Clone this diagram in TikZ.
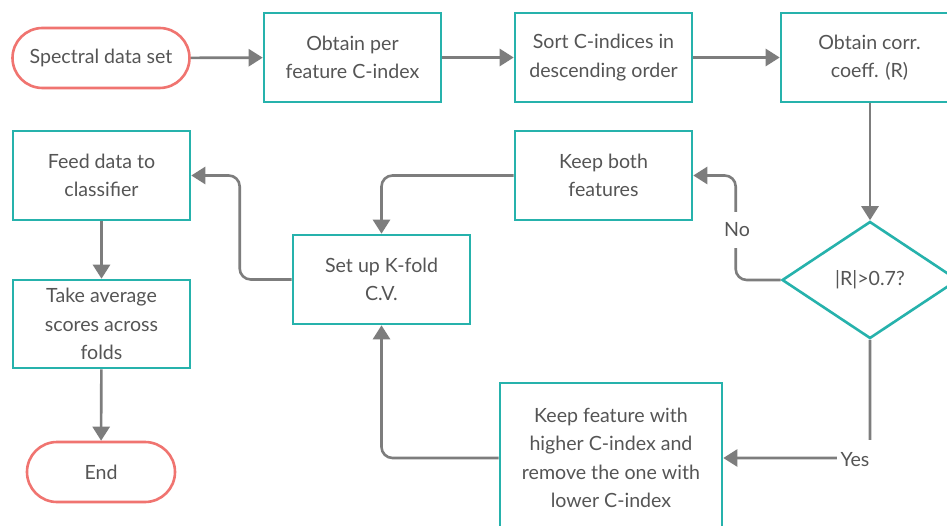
\documentclass[tikz,border=0pt]{standalone}
\usepackage{fontspec}
\setmainfont{Lato}
\usetikzlibrary{shapes.geometric,arrows.meta}
\definecolor{teal}{RGB}{38,178,172}
\definecolor{salmon}{RGB}{240,116,112}
\definecolor{lgray}{RGB}{125,125,125}
\definecolor{tgray}{RGB}{85,85,85}
\tikzset{
  base/.style={text=tgray,font=\fontsize{19.6}{28.5}\selectfont,align=center,line width=2.6pt,inner sep=0pt},
  proc/.style={base,draw=teal,rectangle,minimum width=177pt,minimum height=89pt},
  dec/.style={base,draw=teal,diamond,minimum width=176pt,minimum height=117pt},
  arr/.style={draw=lgray,line width=2.6pt,-{Triangle[length=14pt,width=17pt]},rounded corners=11pt},
  lab/.style={text=tgray,font=\fontsize{19.6}{22}\selectfont,fill=white,inner sep=2pt,minimum height=36pt}
}
\begin{document}
\begin{tikzpicture}[x=1pt,y=-1pt]
\useasboundingbox (0,0) rectangle (947,526);
\clip (0,0) rectangle (947,526);
\fill[white] (0,0) rectangle (947,526);
\node[base,draw=salmon,rectangle,rounded corners=30pt,minimum width=177pt,minimum height=60pt] (start) at (101,58) {Spectral data set};
\node[proc] (b1) at (352.5,57.5) {Obtain per\\feature C-index};
\node[proc] (b2) at (603.5,57.5) {Sort C-indices in\\descending order};
\node[proc] (b3) at (869.5,57.5) {Obtain corr.\\coeff. (R)};
\node[dec] (dia) at (870,280) {|R|>0.7?};
\node[proc] (kb) at (603.5,175.5) {Keep both\\features};
\node[proc] (su) at (381.5,279.5) {Set up K-fold\\C.V.};
\node[proc] (fd) at (101.5,175.5) {Feed data to\\classifier};
\node[proc,minimum height=88pt] (ta) at (101.5,324) {Take average\\scores across\\folds};
\node[base,draw=salmon,rectangle,rounded corners=30pt,minimum width=148pt,minimum height=60pt] (end) at (101,472) {End};
\node[proc,minimum width=222pt,minimum height=150pt] (kf) at (611,458) {Keep feature with\\higher C-index and\\remove the one with\\lower C-index};

\draw[arr] (start) -- (b1);
\draw[arr] (b1) -- (b2);
\draw[arr] (b2.east) -- (b2.east -| b3.west);
\draw[arr] (b3.south -| dia.north) -- (dia.north);
\draw[arr] (dia.west) -- ([xshift=-45pt]dia.west) |- (kb.east);
\node[lab] (no) at (737,230) {No};
\draw[arr] (dia.south) |- (kf.east);
\node[lab,minimum height=40pt,minimum width=36pt] (yes) at (855,460) {Yes};
\draw[arr] (kb.west) -| (su.north);
\draw[arr] (kf.west) -| (su.south);
\draw[arr] (su.west) -- ([xshift=-52pt]su.west) |- (fd.east);
\draw[arr] (fd) -- (ta);
\draw[arr] (ta) -- (end);
\end{tikzpicture}
\end{document}
